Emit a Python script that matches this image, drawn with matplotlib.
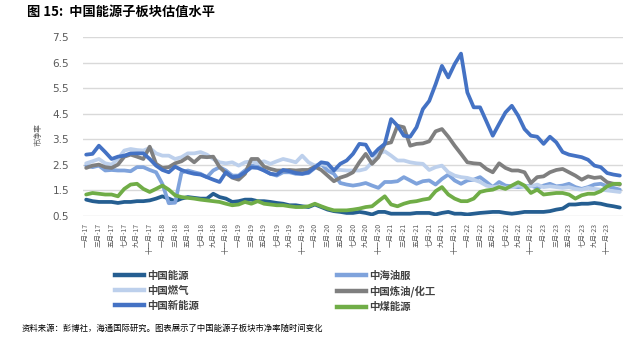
import numpy as np
import matplotlib
matplotlib.use("Agg")
import matplotlib.pyplot as plt
from matplotlib.lines import Line2D

plt.rcParams['font.family'] = ['Noto Sans CJK SC', 'DejaVu Sans']

MONTHS_CN = ["一月", "二月", "三月", "四月", "五月", "六月",
             "七月", "八月", "九月", "十月", "十一月", "十二月"]
YEARS = ["17", "18", "19", "20", "21", "22", "23", "24"]
DATES = [f"{m}-{y}" for y in YEARS for m in MONTHS_CN][:85]

# price-to-book, monthly, Jan-17 .. Jan-24
CHINA_ENERGY = [1.14, 1.08, 1.05, 1.05, 1.05, 1.01, 1.05, 1.05, 1.08, 1.08,
                1.11, 1.18, 1.27, 1.18, 1.08, 1.18, 1.24, 1.21, 1.18, 1.18,
                1.37, 1.24, 1.18, 1.05, 1.08, 1.14, 1.14, 1.08, 1.08, 1.05,
                1.01, 0.98, 0.92, 0.92, 0.88, 0.85, 0.95, 0.85, 0.75, 0.69,
                0.66, 0.62, 0.62, 0.66, 0.62, 0.56, 0.66, 0.66, 0.59, 0.59,
                0.59, 0.59, 0.62, 0.62, 0.62, 0.56, 0.62, 0.66, 0.59, 0.59,
                0.56, 0.59, 0.62, 0.64, 0.66, 0.66, 0.62, 0.59, 0.62, 0.66,
                0.66, 0.66, 0.66, 0.69, 0.75, 0.79, 0.95, 0.95, 0.98, 0.98,
                1.01, 0.98, 0.92, 0.88, 0.83]
OIL_SERVICES = [2.47, 2.41, 2.47, 2.28, 2.30, 2.28, 2.28, 2.25, 2.41, 2.41,
                2.30, 2.21, 1.75, 1.00, 1.02, 2.20, 2.28, 2.21, 2.15, 2.02,
                2.28, 2.41, 2.28, 2.08, 2.08, 2.28, 2.47, 2.43, 2.28, 2.15,
                2.08, 2.21, 2.21, 2.15, 2.15, 2.18, 2.38, 2.54, 2.28, 2.15,
                1.79, 1.73, 1.69, 1.73, 1.79, 1.69, 1.60, 1.83, 1.83, 1.86,
                2.02, 1.89, 1.76, 1.86, 1.89, 1.73, 1.95, 2.12, 1.89, 1.76,
                1.89, 1.92, 2.02, 1.83, 1.63, 1.83, 1.69, 1.66, 1.63, 1.66,
                1.69, 1.60, 1.69, 1.76, 1.66, 1.69, 1.76, 1.63, 1.56, 1.63,
                1.73, 1.76, 1.66, 1.60, 1.53]
CHINA_GAS = [2.56, 2.64, 2.73, 2.56, 2.51, 2.73, 3.06, 3.12, 3.08, 3.06,
             3.16, 2.95, 2.86, 2.86, 2.73, 2.80, 2.95, 2.95, 3.00, 2.90,
             2.73, 2.60, 2.56, 2.60, 2.47, 2.60, 2.64, 2.56, 2.64, 2.54,
             2.64, 2.73, 2.67, 2.60, 2.86, 2.60, 2.47, 2.54, 2.47, 2.30,
             2.30, 2.28, 2.28, 2.28, 2.34, 2.60, 2.93, 3.03, 2.86, 2.67,
             2.67, 2.60, 2.56, 2.54, 2.30, 2.41, 2.47, 2.21, 2.08, 2.02,
             1.99, 1.92, 1.83, 1.69, 1.63, 1.66, 1.60, 1.63, 1.69, 1.66,
             1.66, 1.73, 1.63, 1.66, 1.63, 1.60, 1.63, 1.56, 1.53, 1.60,
             1.56, 1.53, 1.50, 1.47, 1.44]
REFINING = [2.38, 2.47, 2.51, 2.41, 2.38, 2.51, 2.82, 2.90, 2.82, 2.73,
            3.21, 2.54, 2.38, 2.41, 2.56, 2.64, 2.80, 2.60, 2.82, 2.80,
            2.82, 2.41, 2.18, 2.00, 1.92, 2.15, 2.73, 2.73, 2.43, 2.34,
            2.28, 2.28, 2.30, 2.28, 2.30, 2.30, 2.43, 2.30, 2.08, 1.86,
            2.00, 2.08, 2.21, 2.60, 2.93, 2.54, 2.80, 3.32, 3.38, 4.03,
            3.97, 3.25, 3.32, 3.34, 3.42, 3.81, 3.90, 3.60, 3.25, 2.93,
            2.60, 2.56, 2.54, 2.34, 2.21, 2.56, 2.38, 2.28, 2.28, 2.21,
            1.79, 2.02, 2.05, 2.21, 2.30, 2.34, 2.21, 2.08, 1.92, 2.05,
            1.99, 2.02, 1.82, 1.76, 1.73]
NEW_ENERGY = [2.90, 2.93, 3.25, 3.00, 2.73, 2.82, 2.86, 2.95, 2.95, 2.95,
              2.73, 2.47, 2.30, 2.21, 2.43, 2.30, 2.21, 2.15, 2.12, 2.02,
              1.92, 1.83, 2.21, 2.02, 2.05, 2.21, 2.40, 2.38, 2.28, 2.15,
              2.12, 2.30, 2.25, 2.18, 2.15, 2.21, 2.40, 2.60, 2.56, 2.28,
              2.54, 2.67, 2.93, 3.32, 3.29, 2.86, 3.12, 3.32, 4.29, 4.03,
              3.64, 3.60, 3.97, 4.68, 5.00, 5.65, 6.37, 5.92, 6.44, 6.85,
              5.33, 4.75, 4.75, 4.20, 3.64, 4.10, 4.55, 4.81, 4.42, 3.90,
              3.64, 3.60, 3.32, 3.60, 3.38, 3.00, 2.90, 2.85, 2.80, 2.70,
              2.47, 2.41, 2.18, 2.12, 2.08]
CHINA_COAL = [1.34, 1.40, 1.37, 1.34, 1.34, 1.27, 1.56, 1.73, 1.76, 1.56,
              1.44, 1.56, 1.69, 1.53, 1.31, 1.24, 1.21, 1.18, 1.14, 1.11,
              1.08, 1.05, 0.98, 0.92, 0.95, 1.05, 0.98, 1.08, 0.98, 0.95,
              0.92, 0.92, 0.88, 0.85, 0.85, 0.88, 0.98, 0.88, 0.79, 0.72,
              0.72, 0.72, 0.75, 0.79, 0.85, 0.88, 1.08, 1.27, 0.95, 0.88,
              0.98, 1.05, 1.08, 1.14, 1.18, 1.47, 1.63, 1.34, 1.18, 1.08,
              1.08, 1.18, 1.44, 1.50, 1.53, 1.63, 1.56, 1.69, 1.82, 1.69,
              1.40, 1.53, 1.34, 1.37, 1.40, 1.40, 1.34, 1.18, 1.31, 1.37,
              1.37, 1.47, 1.66, 1.76, 1.76]

NAMES = ["中国能源", "中海油服", "中国燃气", "中国炼油/化工", "中国新能源", "中煤能源"]
VALUES = [CHINA_ENERGY, OIL_SERVICES, CHINA_GAS, REFINING, NEW_ENERGY, CHINA_COAL]
COLORS = ["#255e91", "#7fa3dc", "#bdd0ec", "#7f7f7f", "#4472c4", "#70ad47"]

W, H = 642, 354
fig = plt.figure(figsize=(W / 100, H / 100), dpi=100)
ax = fig.add_axes([83 / W, 1 - 216 / H, 540 / W, 179 / H])

x = np.arange(len(DATES))
for vals, c in zip(VALUES, COLORS):
    ax.plot(x, vals, color=c, lw=2.7, solid_joinstyle='round', solid_capstyle='round')

ax.set_xlim(-0.5, len(DATES) - 0.5)
ax.set_ylim(0.5, 7.5)
ax.set_yticks(np.arange(0.5, 7.6, 1.0))
ax.set_yticklabels([f"{v:.1f}" for v in np.arange(0.5, 7.6, 1.0)],
                   family=['DejaVu Sans'])
ax.grid(axis='y', color='#d9d9d9', lw=1)
ax.set_axisbelow(True)
for s in ax.spines.values():
    s.set_visible(False)
ax.tick_params(axis='y', length=0, pad=10, labelsize=7.5, labelcolor='#595959')

ticks = x[:-1:2]
ax.set_xticks(ticks)
ax.set_xticklabels([DATES[i] for i in ticks], rotation=90, fontsize=5)
ax.tick_params(axis='x', length=0, pad=5, labelcolor='#595959')

# legend, two columns placed separately
order_left = [0, 2, 4]
order_right = [1, 3, 5]
for cols, xpos in ((order_left, 115), (order_right, 337)):
    handles = [Line2D([], [], color=COLORS[i], lw=3.2) for i in cols]
    leg = fig.legend(handles, [NAMES[i] for i in cols], loc='upper left',
                     bbox_to_anchor=(xpos / W, 1 - 271 / H), frameon=False,
                     fontsize=7.5, handlelength=2.8, handletextpad=0.3,
                     labelspacing=0.45, borderpad=0, borderaxespad=0)
    for t in leg.get_texts():
        t.set_fontweight('bold')
        t.set_color('#404040')

fig.text(27 / W, 1 - 12 / H, "图 15:  中国能源子板块估值水平", fontsize=9.5,
         fontweight='bold', va='center', ha='left')
fig.text(39 / W, 1 - 135 / H, "市净率", rotation=90, fontsize=5.5,
         ha='center', va='center', color='#595959')
fig.text(22 / W, 1 - 328 / H,
         "资料来源：彭博社，海通国际研究。图表展示了中国能源子板块市净率随时间变化",
         fontsize=6, va='center', ha='left')

fig.savefig("out.png", dpi=100)
